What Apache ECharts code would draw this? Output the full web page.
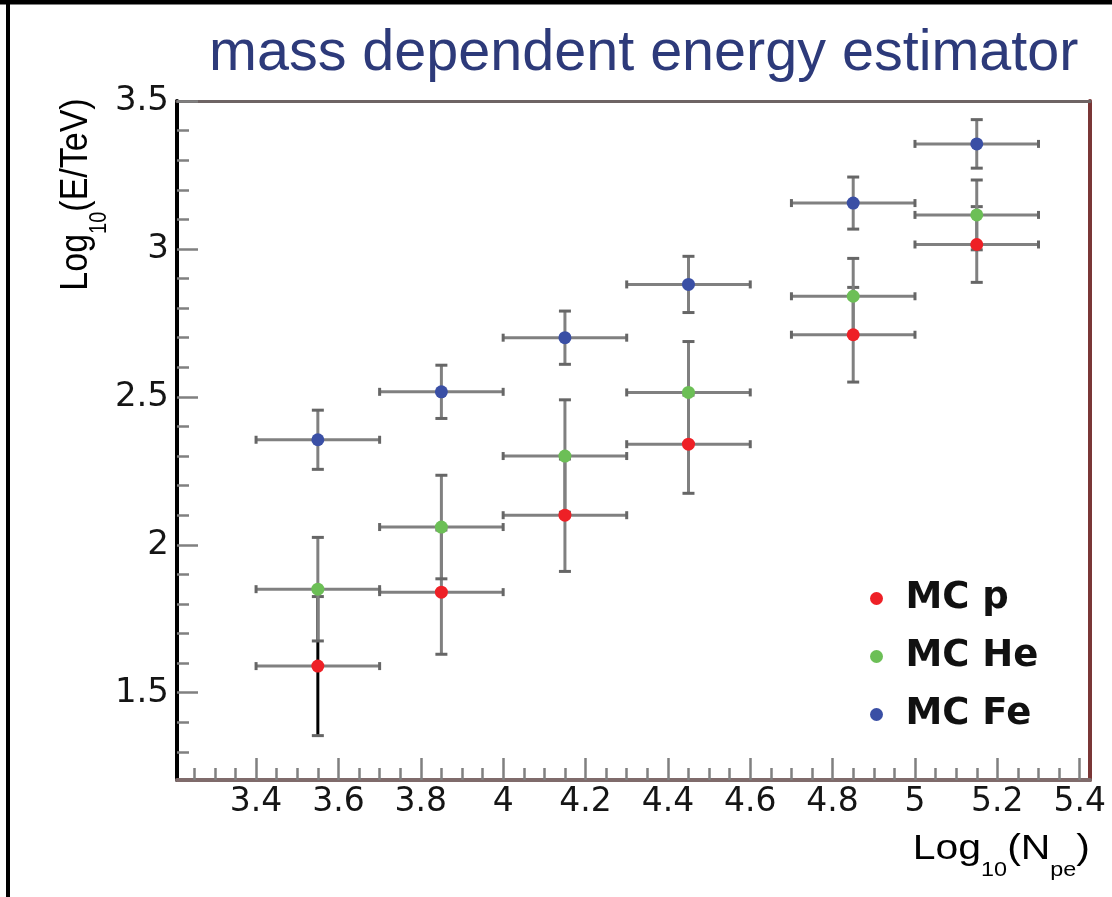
<!DOCTYPE html>
<html><head><meta charset="utf-8">
<script src="https://cdn.jsdelivr.net/npm/echarts@6/dist/echarts.min.js"></script>
<style>html,body{margin:0;padding:0;background:#fff}#c{width:1112px;height:897px}</style>
</head><body><div id="c"></div>
<script>
// ---- data ----
const binCenters   = [3.55, 3.85, 4.15, 4.45, 4.85, 5.15];
const binHalfWidth = [0.15, 0.15, 0.15, 0.15, 0.15, 0.15];
const pValues   = [1.59, 1.84, 2.10, 2.34, 2.71, 3.015];
const pErrors   = [0.235, 0.21, 0.19, 0.166, 0.16, 0.128];
const heValues  = [1.85, 2.06, 2.30, 2.515, 2.84, 3.115];
const heErrors  = [0.175, 0.175, 0.19, 0.172, 0.128, 0.118];
const feValues  = [2.355, 2.517, 2.70, 2.88, 3.155, 3.355];
const feErrors  = [0.10, 0.09, 0.09, 0.095, 0.088, 0.082];
const seriesNames = ['MC p', 'MC He', 'MC Fe'];
const yTickValues = [1.5, 2, 2.5, 3, 3.5];
const yMinorTicks = [1.3, 1.4, 1.6, 1.7, 1.8, 1.9, 2.1, 2.2, 2.3, 2.4, 2.6, 2.7, 2.8, 2.9, 3.1, 3.2, 3.3, 3.4];
const xTickValues = [3.4, 3.6, 3.8, 4, 4.2, 4.4, 4.6, 4.8, 5, 5.2, 5.4];
const xMinorTicks = [3.25, 3.3, 3.35, 3.45, 3.5, 3.55, 3.65, 3.7, 3.75, 3.85, 3.9, 3.95,
  4.05, 4.1, 4.15, 4.25, 4.3, 4.35, 4.45, 4.5, 4.55, 4.65, 4.7, 4.75,
  4.85, 4.9, 4.95, 5.05, 5.1, 5.15, 5.25, 5.3, 5.35];
const xRange = [3.208, 5.425];
const yRange = [1.205, 3.5];

// ---- styles ----
const colors = ['#ee2026', '#6cbf56', '#3a4fa5'];
const GRAY = '#808080';
const CAP = '#666666';
const blackVertical = { 'MC p': [0] };

function makeData(vals, errs) {
  return binCenters.map((x, i) => [x, vals[i], binHalfWidth[i], errs[i]]);
}
const allVals = [pValues, heValues, feValues];
const allErrs = [pErrors, heErrors, feErrors];

function errRender(name) {
  return function (params, api) {
    const x = api.value(0), y = api.value(1), ex = api.value(2), ey = api.value(3);
    const l = api.coord([x - ex, y]), r = api.coord([x + ex, y]);
    const t = api.coord([x, y + ey]), b = api.coord([x, y - ey]);
    const vcol = (blackVertical[name] || []).includes(params.dataIndex) ? '#000' : GRAY;
    return { type: 'group', children: [
      { type: 'line', shape: { x1: l[0], y1: l[1], x2: r[0], y2: r[1] }, style: { stroke: GRAY, lineWidth: 3 } },
      { type: 'line', shape: { x1: t[0], y1: t[1], x2: b[0], y2: b[1] }, style: { stroke: vcol, lineWidth: 3 } },
      { type: 'line', shape: { x1: t[0] - 6, y1: t[1], x2: t[0] + 6, y2: t[1] }, style: { stroke: CAP, lineWidth: 3 } },
      { type: 'line', shape: { x1: b[0] - 6, y1: b[1], x2: b[0] + 6, y2: b[1] }, style: { stroke: CAP, lineWidth: 3 } },
      { type: 'line', shape: { x1: l[0], y1: l[1] - 4, x2: l[0], y2: l[1] + 4 }, style: { stroke: CAP, lineWidth: 3 } },
      { type: 'line', shape: { x1: r[0], y1: r[1] - 4, x2: r[0], y2: r[1] + 4 }, style: { stroke: CAP, lineWidth: 3 } }
    ] };
  };
}

const series = [];
seriesNames.forEach((name, k) => {
  series.push({
    name: name + ' err', type: 'custom', xAxisIndex: 0, yAxisIndex: 0,
    renderItem: errRender(name), data: makeData(allVals[k], allErrs[k]),
    encode: { x: 0, y: 1 }, z: 2, silent: true
  });
});
seriesNames.forEach((name, k) => {
  series.push({
    name: name, type: 'scatter', xAxisIndex: 0, yAxisIndex: 0,
    data: binCenters.map((x, i) => [x, allVals[k][i]]),
    symbol: 'circle', symbolSize: 13, itemStyle: { color: colors[k], opacity: 1 }, z: 5
  });
});

const tickStyle = { color: GRAY, width: 2.5 };
const labelFont = { fontFamily: 'DejaVu Sans', fontSize: 33, color: '#151515' };
const subRich = {
  m: { fontFamily: 'Liberation Sans', fontSize: 34, lineHeight: 34, verticalAlign: 'top', color: '#151515' },
  s: { fontFamily: 'Liberation Sans', fontSize: 20, lineHeight: 20, padding: [28, 0, 0, 0], verticalAlign: 'top', color: '#151515' }
};
const subRichX = {
  m: { fontFamily: 'Liberation Sans', fontSize: 35, lineHeight: 35, verticalAlign: 'top', color: '#151515' },
  s: { fontFamily: 'Liberation Sans', fontSize: 20, lineHeight: 20, padding: [29, 0, 0, 0], verticalAlign: 'top', color: '#151515' }
};

const option = {
  backgroundColor: '#ffffff',
  animation: false,
  title: {
    text: 'mass dependent energy estimator', left: 204, top: 20,
    textStyle: { fontFamily: 'Liberation Sans', fontSize: 57.5, fontWeight: 'normal', color: '#2d3a7a' }
  },
  grid: { left: 177, right: 22, top: 101, bottom: 117, containLabel: false },
  legend: {
    data: seriesNames, orient: 'vertical', left: 865, top: 575,
    itemWidth: 48, itemHeight: 13, itemGap: 21, icon: 'circle',
    textStyle: { fontFamily: 'DejaVu Sans', fontWeight: 'bold', fontSize: 37, lineHeight: 36, color: '#111' }
  },
  xAxis: [
    { type: 'value', min: xRange[0], max: xRange[1], position: 'bottom',
      axisLine: { show: true, lineStyle: { color: '#7f6b6b', width: 4 } },
      axisTick: { show: true, inside: true, length: 22, customValues: xTickValues, lineStyle: tickStyle },
      axisLabel: Object.assign({ customValues: xTickValues, margin: 6 }, labelFont),
      splitLine: { show: false } },
    { type: 'value', min: xRange[0], max: xRange[1], position: 'bottom',
      axisLine: { show: false },
      axisTick: { show: true, inside: true, length: 12, customValues: xMinorTicks, lineStyle: tickStyle },
      axisLabel: { show: false }, splitLine: { show: false } },
    { type: 'value', min: xRange[0], max: xRange[1], position: 'top',
      axisLine: { show: true, lineStyle: { color: '#6e6464', width: 3 } },
      axisTick: { show: false }, axisLabel: { show: false }, splitLine: { show: false } }
  ],
  yAxis: [
    { type: 'value', min: yRange[0], max: yRange[1], position: 'left',
      axisLine: { show: true, lineStyle: { color: '#000', width: 4 } },
      axisTick: { show: true, inside: true, length: 21, customValues: yTickValues, lineStyle: tickStyle },
      axisLabel: Object.assign({ customValues: yTickValues, margin: 8 }, labelFont, { fontSize: 34 }),
      splitLine: { show: false } },
    { type: 'value', min: yRange[0], max: yRange[1], position: 'left',
      axisLine: { show: false },
      axisTick: { show: true, inside: true, length: 12, customValues: yMinorTicks, lineStyle: tickStyle },
      axisLabel: { show: false }, splitLine: { show: false } },
    { type: 'value', min: yRange[0], max: yRange[1], position: 'right',
      axisLine: { show: true, lineStyle: { color: '#7a3636', width: 4 } },
      axisTick: { show: false }, axisLabel: { show: false }, splitLine: { show: false } }
  ],
  graphic: [
    { type: 'line', shape: { x1: 0, y1: 2, x2: 1112, y2: 2 }, style: { stroke: '#000', lineWidth: 5 }, silent: true },
    { type: 'line', shape: { x1: 8, y1: 0, x2: 8, y2: 897 }, style: { stroke: '#000', lineWidth: 4 }, silent: true },
    { type: 'text', x: 76, y: 194.5, rotation: Math.PI / 2, scaleY: 1.15,
      style: { text: '{m|Log}{s|10}{m|(E/TeV)}', rich: subRich, align: 'center', verticalAlign: 'middle' } },
    { type: 'text', x: 1090, y: 831.5, scaleX: 1.17,
      style: { text: '{m|Log}{s|10}{m|(N}{s|pe}{m|)}', rich: subRichX, align: 'right', verticalAlign: 'top' } }
  ],
  series: series
};
const chart = echarts.init(document.getElementById('c'), null, { renderer: 'canvas' });
chart.setOption(option);
</script></body></html>
